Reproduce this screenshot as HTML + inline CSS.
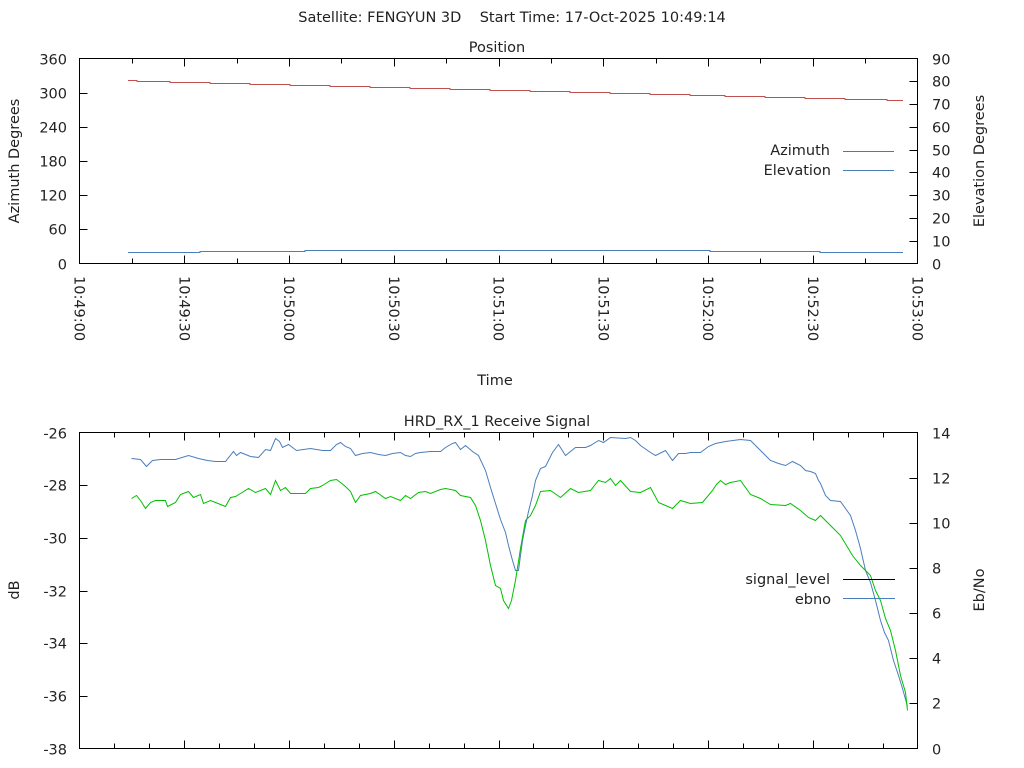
<!DOCTYPE html>
<html><head><meta charset="utf-8"><style>
html,body{margin:0;padding:0;background:#fff;}
svg{display:block;font-family:"DejaVu Sans","Liberation Sans",sans-serif;font-size:14.5px;fill:#222;}
</style></head><body>
<svg id="s" width="1024" height="768" viewBox="0 0 1024 768" xmlns="http://www.w3.org/2000/svg">
<rect width="1024" height="768" fill="#fff"/>
<text x="512" y="22" text-anchor="middle" style="white-space:pre" xml:space="preserve">Satellite: FENGYUN 3D    Start Time: 17-Oct-2025 10:49:14</text>
<text x="497" y="52" text-anchor="middle">Position</text>
<text x="497" y="426" text-anchor="middle">HRD_RX_1 Receive Signal</text>
<text x="495" y="385" text-anchor="middle">Time</text>
<text transform="translate(19,161) rotate(-90)" text-anchor="middle">Azimuth Degrees</text>
<text transform="translate(984,161) rotate(-90)" text-anchor="middle">Elevation Degrees</text>
<text transform="translate(19,590) rotate(-90)" text-anchor="middle">dB</text>
<text transform="translate(984,590) rotate(-90)" text-anchor="middle">Eb/No</text>
<g id="ax" stroke="#000" stroke-width="1" fill="none">
<rect x="79.5" y="58.5" width="838" height="205"/>
<rect x="79.5" y="432.5" width="838" height="316"/>
</g>
<g id="tl"></g>
<!-- top series -->
<g transform="translate(0,0.5)" shape-rendering="crispEdges">
<polyline fill="none" stroke="#c0504d" stroke-width="1" points="128,80 137,80 137,81 170,81 170,82 210,82 210,83 250,83 250,84 290,84 290,85 330,85 330,86 370,86 370,87 410,87 410,88 450,88 450,89 490,89 490,90 530,90 530,91 570,91 570,92 610,92 610,93 650,93 650,94 690,94 690,95 725,95 725,96 765,96 765,97 805,97 805,98 845,98 845,99 887,99 887,100 903,100"/>
<polyline fill="none" stroke="#4a7ebb" stroke-width="1" points="128,252 200,252 200,251 305,251 305,250 710,250 710,251 820,251 820,252 903,252"/>
</g>
<!-- legend top -->
<text x="830" y="155" text-anchor="end">Azimuth</text>
<line x1="843" y1="151.5" x2="894" y2="151.5" stroke="#c0504d"/>
<text x="831" y="175" text-anchor="end">Elevation</text>
<line x1="843" y1="170.5" x2="894" y2="170.5" stroke="#4a7ebb"/>
<!-- bottom series -->
<g transform="translate(0.5,0.5)">
<polyline fill="none" stroke="#4a7ebb" stroke-width="1" points="131,458 140,459 146,466 152,460 160,459 175,459 188,455 198,458 207,460 215,461 225,461 233,451 236,455 240,452 250,456 258,457 265,449 270,450 275,438 279,441 282,447 288,444 296,450 310,448 322,450 330,450 336,444 340,442 345,446 350,448 355,455 362,453 370,452 378,454 385,455 392,453 400,452 405,455 410,456 415,453 420,452 430,451 440,451 445,447 452,443 455,442 460,449 465,445 472,451 478,455 485,470 490,487 495,503 500,519 505,532 508,545 512,560 515,570 518,570 522,540 525,525 528,511 532,495 535,480 540,468 545,466 548,460 552,452 558,444 565,455 575,447 585,447 590,445 598,440 603,442 610,437 625,438 630,437 635,440 640,445 650,452 655,455 665,450 672,460 678,453 685,453 690,452 700,452 708,446 715,443 725,441 740,439 750,440 760,450 770,460 778,463 785,465 792,461 800,465 805,470 810,471 815,473 818,480 820,483 825,495 830,500 840,501 845,508 850,515 855,530 860,548 865,570 870,582 875,600 880,620 884,632 888,640 893,660 898,675 902,688 907,706"/>
<polyline fill="none" stroke="#00c000" stroke-width="1" points="131,498 136,495 140,500 145,508 150,502 155,500 165,500 167,506 175,502 180,494 188,491 193,497 200,494 203,503 210,500 215,502 225,506 230,497 235,496 240,493 248,488 255,492 265,488 270,494 275,480 280,490 285,487 290,493 305,493 310,488 318,487 322,485 330,480 336,479 340,482 345,486 350,491 355,502 360,495 370,493 375,491 385,498 390,496 400,500 405,495 410,498 418,492 425,491 430,493 440,489 445,488 455,490 460,495 470,497 475,505 480,520 485,540 490,565 495,585 500,588 503,600 508,608 511,600 515,580 520,548 525,520 530,515 535,505 540,491 550,490 560,497 570,488 578,492 590,490 598,480 605,482 610,478 615,485 620,480 630,491 640,492 650,487 658,502 665,505 672,508 680,500 690,503 702,502 712,490 716,484 720,480 725,484 730,482 740,480 750,494 760,498 770,504 785,505 790,503 800,510 808,517 815,520 820,515 825,520 830,525 840,535 852,555 860,565 870,575 875,590 880,600 885,618 890,630 895,650 900,675 905,692 907,710"/>
</g>
<!-- legend bottom -->
<text x="830" y="584" text-anchor="end">signal_level</text>
<line x1="843" y1="579.5" x2="895" y2="579.5" stroke="#000"/>
<text x="831" y="604" text-anchor="end">ebno</text>
<line x1="843" y1="598.5" x2="895" y2="598.5" stroke="#4a7ebb"/>
<script>
(function(){
var ns="http://www.w3.org/2000/svg",ax=document.getElementById('ax'),tl=document.getElementById('tl');
function L(x1,y1,x2,y2){var e=document.createElementNS(ns,'line');e.setAttribute('x1',x1);e.setAttribute('y1',y1);e.setAttribute('x2',x2);e.setAttribute('y2',y2);ax.appendChild(e);}
function T(x,y,s,a,tr){var e=document.createElementNS(ns,'text');e.setAttribute('x',x);e.setAttribute('y',y);if(a)e.setAttribute('text-anchor',a);if(tr)e.setAttribute('transform',tr);e.textContent=s;tl.appendChild(e);}
var x0=79.5,W=838;
for(var i=0;i<=6;i++){var y=Math.round(263.5-i*205/6)+.5;if(i>0&&i<6){L(x0,y,x0+8,y);}T(67,y+5,String(i*60),'end');}
for(var i=0;i<=9;i++){var y=Math.round(263.5-i*205/9)+.5;if(i>0&&i<9)L(917.5,y,909.5,y);T(932,y+5,String(i*10),'start');}
for(var k=0;k<=16;k++){var x=Math.round(x0+k*W/16)+.5;var len=(k%2==0)?8:5;if(k>0&&k<16){L(x,263.5,x,263.5-len);L(x,58.5,x,58.5+len);}}
var labs=['10:49:00','10:49:30','10:50:00','10:50:30','10:51:00','10:51:30','10:52:00','10:52:30','10:53:00'];
for(var k=0;k<=8;k++){var x=x0+k*W/8;T(0,0,labs[k],'start','translate('+(x-5)+',276) rotate(90)');}
for(var i=0;i<=6;i++){var y=Math.round(748.5-i*316/6)+.5;if(i>0&&i<6)L(x0,y,x0+8,y);T(67,y+5,String(-38+i*2),'end');}
for(var i=0;i<=7;i++){var y=Math.round(748.5-i*316/7)+.5;if(i>0&&i<7)L(917.5,y,909.5,y);T(932,y+5,String(i*2),'start');}
for(var k=1;k<24;k++){var x=Math.round(x0+k*W/24)+.5;var len=(k%3==0)?8:5;L(x,748.5,x,748.5-len);L(x,432.5,x,432.5+len);}
})();
</script>
</svg>
</body></html>
